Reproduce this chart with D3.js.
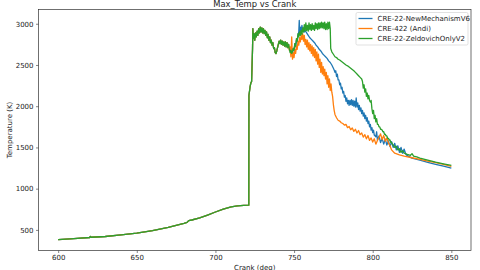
<!DOCTYPE html>
<html>
<head>
<meta charset="utf-8">
<script src="https://cdn.jsdelivr.net/npm/d3@7"></script>
<style>
  body { margin: 0; background: #fff; }
  text { font-family: "DejaVu Sans", sans-serif; fill: #222; }
</style>
</head>
<body>
<script>

// DATI: TRATTO COMUNE (600 - 747 deg)
//
var sharedCrank = [600, 610, 620, 620.5, 621, 630, 640, 650, 660, 670, 680, 682, 683, 685, 690, 695, 700, 705, 710, 714, 718, 721.2,
  721.3, 722, 722.5, 723, 723.6, 723.8,
  724, 724.5, 725, 725.5, 726, 726.5, 727, 727.5, 728, 728.5, 729, 729.5, 730, 730.5, 731, 731.5, 732, 732.5, 733, 733.5,
  734, 734.5, 735, 735.5, 736, 736.5, 737, 737.5, 738, 738.5, 739, 739.5, 740, 740.5, 741, 741.5, 742, 742.5, 743, 743.5,
  744, 744.5, 745, 745.5, 746, 746.5];
var sharedTemp = [383, 395, 408, 420, 411, 420, 440, 462, 492, 530, 580, 592, 612, 620, 645, 680, 717, 752, 780, 792, 798, 800,
  2130, 2230, 2280, 2300, 2700, 2940,
  2820, 2880, 2800, 2890, 2840, 2910, 2860, 2940, 2890, 2960, 2900, 2950, 2890, 2940, 2880, 2920, 2860, 2900, 2830, 2870,
  2800, 2840, 2770, 2800, 2740, 2770, 2700, 2710, 2650, 2640, 2670, 2710, 2750, 2790, 2760, 2800, 2750, 2790, 2740, 2780,
  2730, 2780, 2720, 2770, 2710, 2750];

// DATI: CRE-22-NewMechanismV6 (blu)
//
var newMechCrank = [747, 747.5, 748, 748.5, 749, 749.5, 750, 750.5, 751, 751.5, 752, 752.5, 753, 753.3, 753.6, 754, 754.5, 755, 755.5,
  756, 756.5, 757, 758, 759, 760, 761, 762, 763, 764, 765, 766, 767, 768, 769, 770, 771, 772, 773, 774, 775, 775.5,
  776, 776.5, 777, 777.5, 778, 778.5, 779, 779.5, 780, 780.5, 781, 781.5, 782, 782.5, 783, 783.5, 784, 784.5, 785, 785.5,
  786, 786.5, 787, 787.5, 788, 788.5, 789, 789.5, 790, 790.5, 791, 791.5, 792, 792.5, 793, 793.5, 794, 794.5, 795, 795.5,
  796, 796.5, 797, 797.5, 798, 798.5, 799, 799.5, 800, 800.5, 801, 802, 802.5, 803, 804, 805, 806, 807, 808, 809, 810,
  811, 812, 813, 814, 815, 816, 817, 818, 819, 820, 821, 822, 825, 830, 835, 840, 845, 850];
var newMechTemp = [2700, 2680, 2650, 2700, 2640, 2700, 2680, 2760, 2720, 2800, 2780, 2860, 2900, 3040, 2880, 2960, 2900, 2980, 2920,
  2950, 2900, 2920, 2890, 2860, 2830, 2810, 2790, 2770, 2740, 2720, 2690, 2670, 2640, 2620, 2600, 2580, 2550, 2530, 2500, 2460, 2440,
  2410, 2430, 2360, 2390, 2320, 2320, 2260, 2280, 2210, 2230, 2160, 2180, 2110, 2130, 2060, 2100, 2030, 2070, 2010, 2070,
  2020, 2080, 2010, 2070, 2000, 2060, 1990, 2100, 1990, 2040, 1960, 2010, 1940, 1980, 1910, 1950, 1880, 1920, 1850, 1890,
  1820, 1860, 1790, 1820, 1750, 1780, 1710, 1740, 1680, 1710, 1650, 1630, 1690, 1590, 1640, 1560, 1610, 1540, 1600, 1530, 1580,
  1510, 1570, 1500, 1550, 1470, 1520, 1440, 1500, 1430, 1480, 1420, 1400, 1370, 1345, 1320, 1295, 1272, 1248];

// DATI: CRE-422 (Andi) (arancione)
//
var andiCrank = [747, 747.5, 748, 748.5, 749, 749.5, 750, 750.5, 751, 751.5, 752, 752.5, 753, 753.5, 754, 754.5, 755, 755.5,
  756, 756.5, 757, 757.5, 758, 758.5, 759, 759.5, 760, 760.5, 761, 761.5, 762, 762.5, 763, 763.5, 764, 764.5, 765, 765.5,
  766, 766.5, 767, 767.5, 768, 768.5, 769, 769.5, 770, 770.5, 771, 771.5, 772, 772.5, 773, 773.5, 774, 774.5, 775, 775.5,
  776, 777, 778, 779, 780, 781, 782, 783, 784, 785, 786, 787, 788, 789, 790, 791, 792, 793, 794, 795, 796, 797, 798, 799,
  800, 801, 802, 803, 804, 805, 806, 807, 808, 809, 810, 811, 812, 814, 817, 820, 825, 830, 835, 840, 845, 850];
var andiTemp = [2680, 2720, 2600, 2840, 2570, 2650, 2590, 2690, 2640, 2730, 2690, 2790, 2740, 2830, 2780, 2860, 2810, 2880,
  2790, 2860, 2750, 2810, 2720, 2800, 2690, 2770, 2670, 2750, 2640, 2730, 2610, 2710, 2590, 2690, 2550, 2660, 2510, 2630,
  2470, 2570, 2410, 2530, 2390, 2480, 2370, 2450, 2330, 2410, 2270, 2370, 2230, 2330, 2190, 2270, 2170, 2120, 2020, 1950,
  1900, 1860, 1830, 1820, 1800, 1790, 1770, 1780, 1740, 1755, 1715, 1735, 1695, 1720, 1675, 1705, 1655, 1675, 1625, 1655, 1605, 1645, 1585, 1615,
  1565, 1605, 1540, 1585, 1620, 1665, 1595, 1645, 1575, 1615, 1555, 1520, 1470, 1430, 1410, 1395, 1375, 1355, 1335, 1315, 1295, 1270];

// DATI: CRE-22-ZeldovichOnlyV2 (verde)
//
var zeldCrank = [747, 747.5, 748, 748.5, 749, 749.5, 750, 750.5, 751, 751.5, 752, 752.5, 753, 753.5, 754, 754.5, 755, 755.5,
  756, 756.5, 757, 757.5, 758, 758.5, 759, 759.5, 760, 760.5, 761, 761.5, 762, 762.5, 763, 763.5, 764, 764.5, 765, 765.5,
  766, 766.5, 767, 767.5, 768, 768.5, 769, 769.5, 770, 770.5, 771, 771.5, 772, 772.5, 773, 773.3,
  774, 775, 776, 777, 778, 779, 780, 781, 782, 783, 784, 785, 786, 787, 788, 789, 790, 791, 792, 793, 793.5,
  794, 794.5, 795, 795.5, 796, 796.5, 797, 797.5, 798, 798.5, 799, 799.5, 800, 800.5, 801, 801.5, 802, 802.5, 803, 803.5,
  804, 804.5, 805, 805.5, 806, 806.5, 807, 807.5, 808, 808.5, 809, 809.5, 810, 810.5, 811, 811.5, 812, 812.5, 813,
  814, 815, 816, 817, 818, 819, 820, 822, 824, 825, 826, 828, 830, 835, 840, 845, 850];
var zeldTemp = [2690, 2650, 2680, 2640, 2660, 2700, 2680, 2760, 2730, 2820, 2790, 2880, 2840, 2900, 2860, 2920, 2870, 2950,
  2900, 2990, 2910, 3010, 2920, 2980, 2910, 3010, 2930, 2990, 2920, 3000, 2930, 2980, 2920, 3010, 2940, 3000, 2930, 3010,
  2940, 3010, 2950, 3020, 2950, 3010, 2940, 3020, 2930, 3000, 2930, 3020, 2940, 3020, 2940, 2700,
  2660, 2630, 2600, 2590, 2570, 2560, 2545, 2530, 2515, 2500, 2490, 2475, 2460, 2445, 2430, 2410, 2390, 2370, 2350, 2330, 2300,
  2220, 2260, 2170, 2210, 2120, 2160, 2090, 2130, 2070, 2050, 2070, 1970, 1910, 1950, 1850, 1890, 1810, 1850, 1780, 1780,
  1750, 1750, 1720, 1720, 1710, 1690, 1690, 1660, 1660, 1640, 1640, 1610, 1610, 1590, 1590, 1560, 1560, 1540, 1530,
  1500, 1515, 1470, 1485, 1440, 1460, 1430, 1415, 1405, 1425, 1395, 1385, 1370, 1345, 1322, 1302, 1282];

// ETICHETTE
//
var seriesNames = ["CRE-22-NewMechanismV6", "CRE-422 (Andi)", "CRE-22-ZeldovichOnlyV2"];
var seriesColors = ["#1f77b4", "#ff7f0e", "#2ca02c"];
var xTicks = [600, 650, 700, 750, 800, 850];
var yTicks = [500, 1000, 1500, 2000, 2500, 3000];

// VARIABILI PER DOM
//
var width = 480;
var height = 270;
var margin = {left: 38.5, right: 9, top: 9.5, bottom: 19.5};

function buildSeries(crank, temp){
  var points = [];
  sharedCrank.forEach((c, i) => points.push({x: c, y: sharedTemp[i]}));
  crank.forEach((c, i) => points.push({x: c, y: temp[i]}));
  return points;
}

var allSeries = [
  buildSeries(newMechCrank, newMechTemp),
  buildSeries(andiCrank, andiTemp),
  buildSeries(zeldCrank, zeldTemp)
];

// SCALE (margine 5% come matplotlib)
//
var xMin = 600, xMax = 850;
var yMin = d3.min(allSeries, s => d3.min(s, d => d.y));
var yMax = d3.max(allSeries, s => d3.max(s, d => d.y));
var xPad = (xMax - xMin) * 0.05;
var yPad = (yMax - yMin) * 0.05;

var x = d3.scaleLinear()
  .domain([xMin - xPad, xMax + xPad])
  .range([margin.left, width - margin.right]);

var y = d3.scaleLinear()
  .domain([yMin - yPad, yMax + yPad])
  .range([height - margin.bottom, margin.top]);

var svg = d3.select("body").append("svg")
  .attr("width", width)
  .attr("height", height);

// LINEE
//
var line = d3.line()
  .x(d => x(d.x))
  .y(d => y(d.y));

allSeries.forEach((s, i) => {
  svg.append("path")
    .datum(s)
    .attr("fill", "none")
    .attr("stroke", seriesColors[i])
    .attr("stroke-width", 1.3)
    .attr("stroke-linejoin", "round")
    .attr("d", line);
});

// ASSI
//
var xAxis = svg.append("g")
  .attr("transform", "translate(0," + (height - margin.bottom) + ")")
  .call(d3.axisBottom(x).tickValues(xTicks).tickFormat(d3.format("d")).tickSize(2.5).tickPadding(2.5));

var yAxis = svg.append("g")
  .attr("transform", "translate(" + margin.left + ",0)")
  .call(d3.axisLeft(y).tickValues(yTicks).tickFormat(d3.format("d")).tickSize(2.5).tickPadding(2.5));

[xAxis, yAxis].forEach(a => {
  a.select(".domain").remove();
  a.selectAll("line").attr("stroke", "#333").attr("stroke-width", 0.6);
  a.selectAll("text").attr("font-size", 7).attr("font-family", "DejaVu Sans").attr("fill", "#222");
});

// BORDO
//
svg.append("rect")
  .attr("x", margin.left)
  .attr("y", margin.top)
  .attr("width", width - margin.left - margin.right)
  .attr("height", height - margin.top - margin.bottom)
  .attr("fill", "none")
  .attr("stroke", "#333")
  .attr("stroke-width", 0.7);

// TITOLO E ETICHETTE ASSI
//
var cx = (margin.left + width - margin.right) / 2;

svg.append("text")
  .attr("x", cx)
  .attr("y", 6.5)
  .attr("text-anchor", "middle")
  .attr("font-size", 8.4)
  .text("Max_Temp vs Crank");

svg.append("text")
  .attr("x", cx)
  .attr("y", 269.5)
  .attr("text-anchor", "middle")
  .attr("font-size", 7)
  .text("Crank (deg)");

svg.append("text")
  .attr("transform", "translate(12," + ((margin.top + height - margin.bottom) / 2) + ") rotate(-90)")
  .attr("text-anchor", "middle")
  .attr("font-size", 7)
  .text("Temperature (K)");

// LEGENDA
//
var legend = svg.append("g")
  .attr("transform", "translate(356,12.5)");

legend.append("rect")
  .attr("width", 112)
  .attr("height", 32.5)
  .attr("rx", 1.5)
  .attr("fill", "#fff")
  .attr("fill-opacity", 0.8)
  .attr("stroke", "#ccc")
  .attr("stroke-width", 0.6);

seriesNames.forEach((name, i) => {
  var row = legend.append("g").attr("transform", "translate(0," + (6 + i * 10) + ")");
  row.append("line")
    .attr("x1", 2.5).attr("x2", 16.5)
    .attr("stroke", seriesColors[i])
    .attr("stroke-width", 1.3);
  row.append("text")
    .attr("x", 21.5)
    .attr("y", 2.5)
    .attr("font-size", 7)
    .text(name);
});

</script>
</body>
</html>
